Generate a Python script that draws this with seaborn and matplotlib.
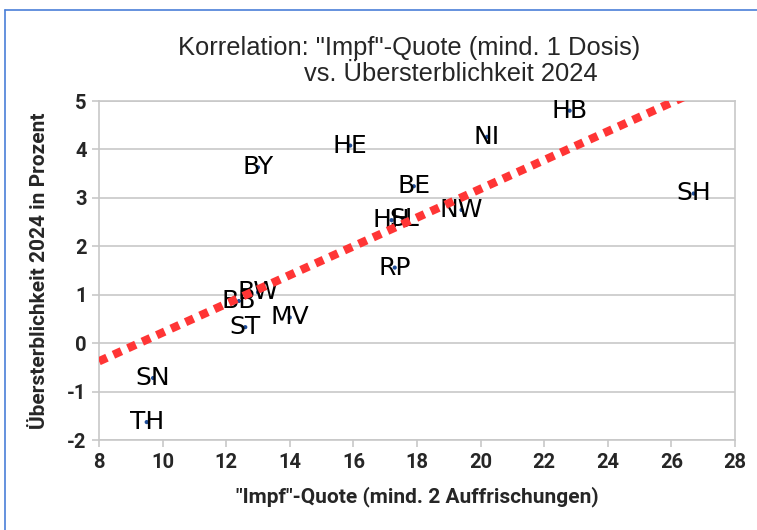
import numpy as np
import pandas as pd
import matplotlib
matplotlib.use("Agg")
import matplotlib.pyplot as plt
from matplotlib.lines import Line2D
import seaborn as sns

# Bundeslaender: Impfquote (mind. 2 Auffrischungen) vs. Uebersterblichkeit 2024
laender = ["BB", "BE", "BW", "BY", "HB", "HE", "HH", "MV",
           "NI", "NW", "RP", "SH", "SL", "SN", "ST", "TH"]
impfquote = [12.4, 17.9, 13.0, 13.0, 22.8, 15.9, 17.2, 14.0,
             20.2, 19.4, 17.3, 26.7, 17.6, 9.7, 12.6, 9.5]
uebersterblichkeit = [0.87, 3.24, 1.05, 3.63, 4.80, 4.08, 2.54, 0.53,
                      4.26, 2.75, 1.56, 3.09, 2.56, -0.72, 0.33, -1.63]
x_ticks = [8, 10, 12, 14, 16, 18, 20, 22, 24, 26, 28]
y_ticks = [-2, -1, 0, 1, 2, 3, 4, 5]

df = pd.DataFrame({"Land": laender, "Quote": impfquote, "UeS": uebersterblichkeit})

sns.set_style("white")
plt.rcParams["font.family"] = ["DejaVu Sans"]

fig = plt.figure(figsize=(7.57, 5.30), dpi=100)
ax = fig.add_axes([99 / 757, 1 - 440 / 530, 636 / 757, 339 / 530])

grid_col = "#c8c8c8"
for y in y_ticks:
    ax.axhline(y, color=grid_col, lw=1.2, zorder=0)

sns.scatterplot(x="Quote", y="UeS", data=df, ax=ax, color="#1f4e9a", s=9,
                edgecolor="none", zorder=3)

lab_font = dict(family="DejaVu Sans", size=18)
for _, r in df.iterrows():
    ax.text(r.Quote, r.UeS, r.Land, ha="center", va="center", color="black",
            zorder=4, **lab_font)

# linear trend, extrapolated back to the axis start
b, a = np.polyfit(df.Quote, df.UeS, 1)
xt = np.array([x_ticks[0], df.Quote.max()])
ax.plot(xt, a + b * xt, color="#ff3535", lw=6, linestyle=(0, (1.05, 0.85)),
        dash_capstyle="butt", zorder=5)

ax.set_xlim(8, 28)
ax.set_ylim(-2, 5)
ax.set_xticks(x_ticks)
ax.set_yticks(y_ticks)
ax.set_xticklabels([str(t) for t in x_ticks])
ax.set_yticklabels([str(t) for t in y_ticks])

tick_font = dict(family="Roboto", weight="bold", size=14.5)
for lab in ax.get_xticklabels() + ax.get_yticklabels():
    lab.set(**tick_font)
ax.tick_params(axis="both", direction="out", length=5, width=1.2, color=grid_col,
               pad=4, left=True, bottom=True)
for s in ax.spines.values():
    s.set_color(grid_col)
    s.set_linewidth(1.2)

axis_font = dict(family="Roboto", weight="bold", size=15)
ax.set_xlabel('"Impf"-Quote (mind. 2 Auffrischungen)', labelpad=11, **axis_font)
ax.set_ylabel("Übersterblichkeit 2024 in Prozent", labelpad=13, **axis_font)

fig.text(409 / 757, 1 - 55 / 530, 'Korrelation: "Impf"-Quote (mind. 1 Dosis)',
         ha="center", va="baseline", family="Liberation Sans", size=18.4)
fig.text(451 / 757, 1 - 81 / 530, "vs. Übersterblichkeit 2024",
         ha="center", va="baseline", family="Liberation Sans", size=18.4)

# outer chart frame
frame = "#4a7fd8"
fig.add_artist(Line2D([5 / 757, 1], [1 - 10 / 530] * 2, color=frame, lw=1.2))
fig.add_artist(Line2D([5 / 757] * 2, [0, 1 - 10 / 530], color=frame, lw=1.2))

fig.savefig("out.png", dpi=100)
